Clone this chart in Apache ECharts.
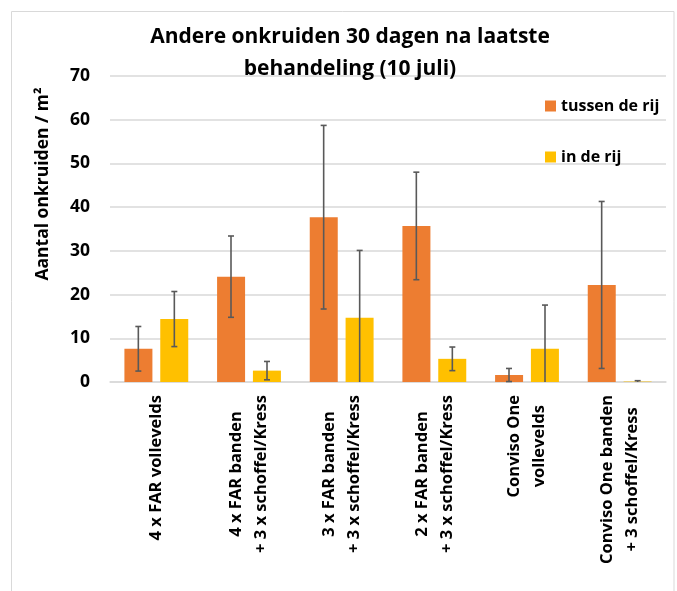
<!DOCTYPE html>
<html>
<head>
<meta charset="utf-8">
<script src="https://cdn.jsdelivr.net/npm/echarts@6/dist/echarts.min.js"></script>
<style>
  html, body { margin: 0; padding: 0; background: #fff; }
  #chart { width: 677px; height: 591px; }
</style>
</head>
<body>
<div id="chart"></div>
<script>
var categories = [
    '4 x FAR vollevelds',
    '4 x FAR banden\n+ 3 x schoffel/Kress',
    '3 x FAR banden\n+ 3 x schoffel/Kress',
    '2 x FAR banden\n+ 3 x schoffel/Kress',
    'Conviso One\nvollevelds',
    'Conviso One banden\n+ 3 schoffel/Kress'
];
var tussenDeRij = [7.6, 24.1, 37.7, 35.7, 1.6, 22.2];
var tussenDeRijErr = [5.1, 9.3, 21.0, 12.3, 1.5, 19.1];
var inDeRij = [14.4, 2.6, 14.7, 5.3, 7.6, 0.1];
var inDeRijErr = [6.3, 2.1, 15.4, 2.7, 10.0, 0.2];
var yTicks = [0, 10, 20, 30, 40, 50, 60, 70];

var font = '"Open Sans", Lato, sans-serif';

function errorData(values, errs) {
    return values.map(function (v, i) {
        return [i, v, errs[i]];
    });
}

function errorSeries(name, values, errs, offset) {
    return {
        name: name,
        type: 'custom',
        data: errorData(values, errs),
        z: 10,
        renderItem: function (params, api) {
            var i = api.value(0), v = api.value(1), e = api.value(2);
            var lo = Math.max(0, v - e);
            var hi = v + e;
            var pHi = api.coord([i, hi]);
            var pLo = api.coord([i, lo]);
            var x = pHi[0] + offset;
            var style = { stroke: '#595959', lineWidth: 1.6 };
            var kids = [
                { type: 'line', shape: { x1: x, y1: pHi[1], x2: x, y2: pLo[1] }, style: style },
                { type: 'line', shape: { x1: x - 3, y1: pHi[1], x2: x + 3, y2: pHi[1] }, style: style }
            ];
            if (v - e >= 0) {
                kids.push({ type: 'line', shape: { x1: x - 3, y1: pLo[1], x2: x + 3, y2: pLo[1] }, style: style });
            }
            return { type: 'group', children: kids };
        }
    };
}

var myChart = echarts.init(document.getElementById('chart'));
var option = {
    animation: false,
    textStyle: { fontFamily: font },
    title: {
        text: 'Andere onkruiden 30 dagen na laatste\nbehandeling (10 juli)',
        left: 345,
        top: 16,
        textAlign: 'center',
        textStyle: {
            fontFamily: font,
            fontSize: 21,
            fontWeight: 'bold',
            color: '#000',
            lineHeight: 32
        }
    },
    legend: {
        data: ['tussen de rij', 'in de rij'],
        orient: 'vertical',
        left: 540,
        top: 91,
        itemWidth: 11,
        itemHeight: 11,
        itemGap: 31,
        itemTextGap: 5,
        icon: 'rect',
        textStyle: { fontFamily: font, fontSize: 16, fontWeight: 'bold', color: '#000', lineHeight: 20 }
    },
    graphic: [
        {
            type: 'rect',
            shape: { x: 11.5, y: 11.5, width: 662.5, height: 600 },
            style: { fill: 'none', stroke: '#d9d9d9', lineWidth: 1 },
            silent: true
        },
        {
            type: 'text',
            x: 43,
            y: 184,
            rotation: Math.PI / 2,
            style: {
                text: 'Aantal onkruiden / m²',
                font: 'bold 17.5px ' + font,
                fill: '#000',
                textAlign: 'center',
                textVerticalAlign: 'middle'
            }
        }
    ],
    grid: { left: 110, right: 11, top: 76, bottom: 209 },
    xAxis: {
        type: 'category',
        data: categories,
        axisLine: { lineStyle: { color: '#d9d9d9', width: 1.5 } },
        axisTick: { show: false },
        axisLabel: {
            interval: 0,
            rotate: 90,
            margin: 13,
            formatter: function (val) {
                return val.split('\n').map(function (s) { return '{c|' + s + '}'; }).join('\n');
            },
            rich: {
                c: {
                    align: 'center',
                    fontFamily: font,
                    fontSize: 16.5,
                    fontWeight: 'bold',
                    color: '#000',
                    lineHeight: 25
                }
            }
        }
    },
    yAxis: {
        type: 'value',
        min: yTicks[0],
        max: yTicks[yTicks.length - 1],
        interval: 10,
        axisLine: { show: false },
        axisTick: { show: false },
        splitLine: { lineStyle: { color: '#d9d9d9', width: 1.5 } },
        axisLabel: {
            margin: 20,
            fontFamily: font,
            fontSize: 17.5,
            fontWeight: 'bold',
            color: '#000'
        }
    },
    series: [
        {
            name: 'tussen de rij',
            type: 'bar',
            data: tussenDeRij,
            barWidth: 28,
            barGap: '28%',
            itemStyle: { color: '#ED7D31' }
        },
        {
            name: 'in de rij',
            type: 'bar',
            data: inDeRij,
            barWidth: 28,
            barGap: '28%',
            itemStyle: { color: '#FFC000' }
        },
        errorSeries('err tussen', tussenDeRij, tussenDeRijErr, -18),
        errorSeries('err in', inDeRij, inDeRijErr, 18)
    ]
};

myChart.setOption(option);
</script>
</body>
</html>
